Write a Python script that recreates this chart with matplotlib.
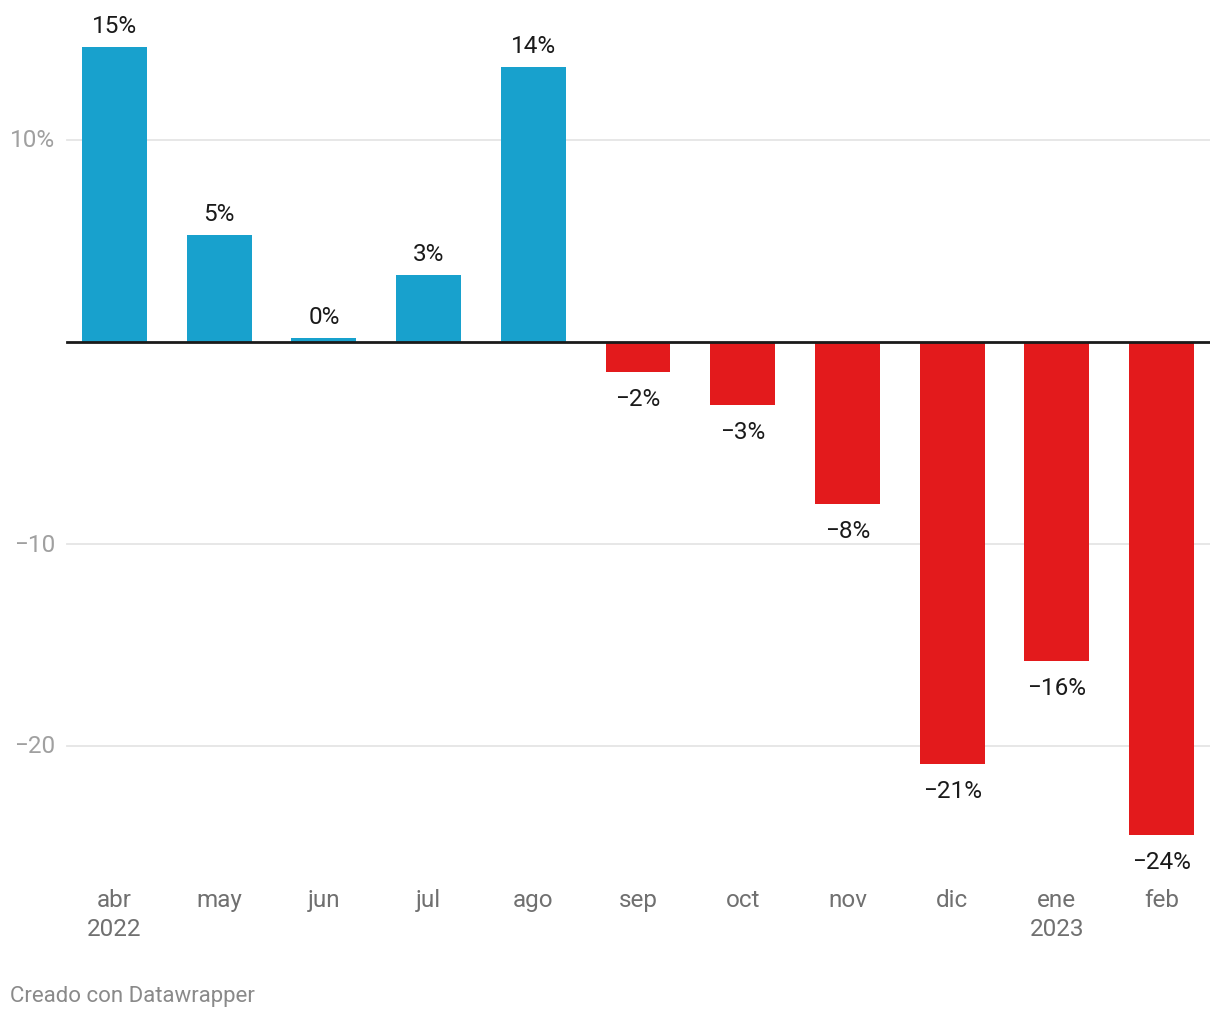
import matplotlib.pyplot as plt

plt.rcParams['font.family'] = ['Roboto', 'DejaVu Sans']

months = ['abr', 'may', 'jun', 'jul', 'ago', 'sep', 'oct', 'nov', 'dic', 'ene', 'feb']
years = ['2022', '', '', '', '', '', '', '', '', '2023', '']
values = [14.6, 5.3, 0.2, 3.3, 13.6, -1.5, -3.1, -8.0, -20.9, -15.8, -24.4]
labels = ['15%', '5%', '0%', '3%', '14%', '\u22122%', '\u22123%', '\u22128%', '\u221221%', '\u221216%', '\u221224%']
yticks = [10, -10, -20]
ytick_labels = ['10%', '\u221210', '\u221220']

W, H = 1220, 1020
fig = plt.figure(figsize=(W / 100, H / 100), dpi=100)

# axes in pixel coords: x 38..1210, y 0..880 (top->bottom)
ax_left, ax_right, ax_top, ax_bot = 38, 1210, 0, 880
ax = fig.add_axes([ax_left / W, 1 - ax_bot / H, (ax_right - ax_left) / W, (ax_bot - ax_top) / H])

zero_px, px_per = 343, 20.2
x0_px, step = 114.5, 104.7
ax.set_ylim((zero_px - ax_bot) / px_per, (zero_px - ax_top) / px_per)
ax.set_xlim((ax_left - x0_px) / step, (ax_right - x0_px) / step)

blue, red = '#18a1cd', '#e31a1c'
colors = [blue if v >= 0 else red for v in values]
xs = list(range(len(values)))
ax.bar(xs, values, width=0.62, color=colors, zorder=2)

gx0 = (67 - x0_px) / step
for t in yticks:
    ax.plot([gx0, ax.get_xlim()[1]], [t, t], color='#e5e5e5', lw=1.3, zorder=1)
ax.plot([gx0, ax.get_xlim()[1]], [0, 0], color='#1a1a1a', lw=2, zorder=3)

for t, lab in zip(yticks, ytick_labels):
    ax.text(55 / W, 1 - (zero_px - t * px_per) / H, lab, transform=fig.transFigure,
            ha='right', va='center', fontsize=17.5, color='#a0a0a0')

for x, v, lab in zip(xs, values, labels):
    if v >= 0:
        ax.annotate(lab, (x, v), xytext=(0, 10), textcoords='offset pixels',
                    ha='center', va='bottom', fontsize=17.5, color='#1a1a1a')
    else:
        ax.annotate(lab, (x, v), xytext=(0, -15), textcoords='offset pixels',
                    ha='center', va='top', fontsize=17.5, color='#1a1a1a')

for x, m, y in zip(xs, months, years):
    xf = (x0_px + x * step) / W
    ax.text(xf, 1 - 901 / H, m, transform=fig.transFigure, ha='center', va='center',
            fontsize=17.5, color='#707070')
    if y:
        ax.text(xf, 1 - 930 / H, y, transform=fig.transFigure, ha='center', va='center',
                fontsize=17.5, color='#707070')

fig.text(10 / W, 1 - 997 / H, 'Creado con Datawrapper', ha='left', va='center',
         fontsize=16, color='#8a8a8a')

ax.axis('off')
fig.savefig('out.png', dpi=100)
